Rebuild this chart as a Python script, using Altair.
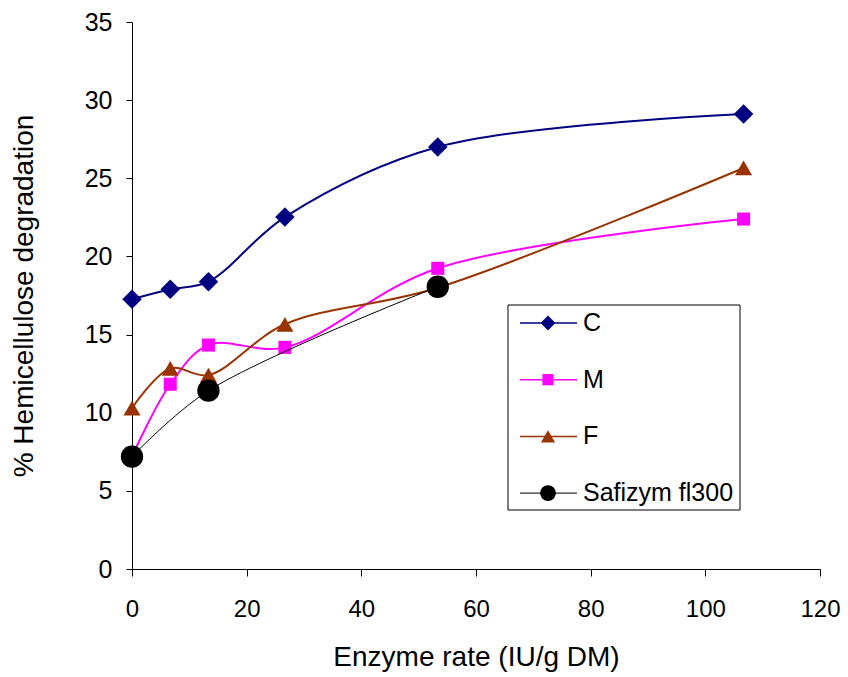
import altair as alt
import pandas as pd

# Enzyme doses (IU/g DM) and hemicellulose degradation (%) per treatment
dose = [0, 6.67, 13.33, 26.67, 53.33, 106.67]
c_vals = [17.26, 17.9, 18.38, 22.52, 27.0, 29.11]
m_vals = [7.2, 11.82, 14.33, 14.18, 19.24, 22.39]
f_vals = [10.3, 12.84, 12.41, 15.66, 18.0, 25.66]
saf_dose = [0, 13.33, 53.33]
saf_vals = [7.19, 11.41, 18.06]

series_names = ["C", "M", "F", "Safizym fl300"]
series_x = [dose, dose, dose, saf_dose]
series_y = [c_vals, m_vals, f_vals, saf_vals]

colors = ["#000080", "#FF00FF", "#993300", "#000000"]
shapes = ["diamond", "square", "triangle-up", "circle"]
sizes = [380, 170, 290, 500]
legend_sizes = [220, 125, 200, 250]
widths = [2, 2, 2, 1]

FONT = "Liberation Sans"
W, H = 688, 547

x_scale = alt.Scale(domain=[0, 120], nice=False, zero=True)
y_scale = alt.Scale(domain=[0, 35], nice=False, zero=True)

x_axis = alt.Axis(
    title="Enzyme rate (IU/g DM)", values=list(range(0, 121, 20)),
    labelFontSize=24, titleFontSize=28, labelPadding=21, titlePadding=22,
    tickSize=7, labelFlush=False,
)
y_axis = alt.Axis(
    title="% Hemicellulose degradation", values=list(range(0, 36, 5)),
    labelFontSize=25, titleFontSize=28, labelPadding=14, titlePadding=46,
    tickSize=6, labelFlush=False,
)

layers = []
for i, name in enumerate(series_names):
    df = pd.DataFrame({"rate": series_x[i], "deg": series_y[i], "series": name})
    base = alt.Chart(df).encode(
        x=alt.X("rate:Q", scale=x_scale, axis=x_axis),
        y=alt.Y("deg:Q", scale=y_scale, axis=y_axis),
    )
    line = base.mark_line(
        interpolate="catmull-rom", color=colors[i], strokeWidth=widths[i]
    )
    pts = base.mark_point(
        shape=shapes[i], size=sizes[i], filled=True, color=colors[i], opacity=1
    )
    layers += [line, pts]

# Legend box with a line-and-marker sample for each series
box_df = pd.DataFrame({"k": [0]})
legend_box = alt.Chart(box_df).mark_rect(
    fill="white", stroke="black", strokeWidth=1
).encode(
    x=alt.value(376), x2=alt.value(608), y=alt.value(283), y2=alt.value(488)
)
layers.append(legend_box)

row_top, row_gap = 301, 56.7
for i, name in enumerate(series_names):
    ly = row_top + i * row_gap
    ent = pd.DataFrame({"label": [name]})
    layers.append(
        alt.Chart(ent).mark_rule(color=colors[i], strokeWidth=1.5 if i < 3 else 1).encode(
            x=alt.value(388), x2=alt.value(445), y=alt.value(ly)
        )
    )
    layers.append(
        alt.Chart(ent).mark_point(
            shape=shapes[i], size=legend_sizes[i],
            filled=True, color=colors[i], opacity=1
        ).encode(x=alt.value(416), y=alt.value(ly))
    )
    layers.append(
        alt.Chart(ent).mark_text(
            align="left", baseline="middle", font=FONT, fontSize=25, color="black"
        ).encode(x=alt.value(451), y=alt.value(ly), text="label:N")
    )

chart = alt.layer(*layers).properties(
    width=W, height=H,
    autosize=alt.AutoSizeParams(type="none"),
    padding={"left": 132, "top": 22, "right": 28, "bottom": 108},
    background="white",
).configure_view(stroke=None).configure_axis(
    grid=False, domainColor="black", tickColor="black", labelColor="black",
    titleColor="black", labelFont=FONT, titleFont=FONT, titleFontWeight="normal",
    domainWidth=1, tickWidth=1,
)

chart.save("out.html", embed_options={"renderer": "svg", "actions": False})
